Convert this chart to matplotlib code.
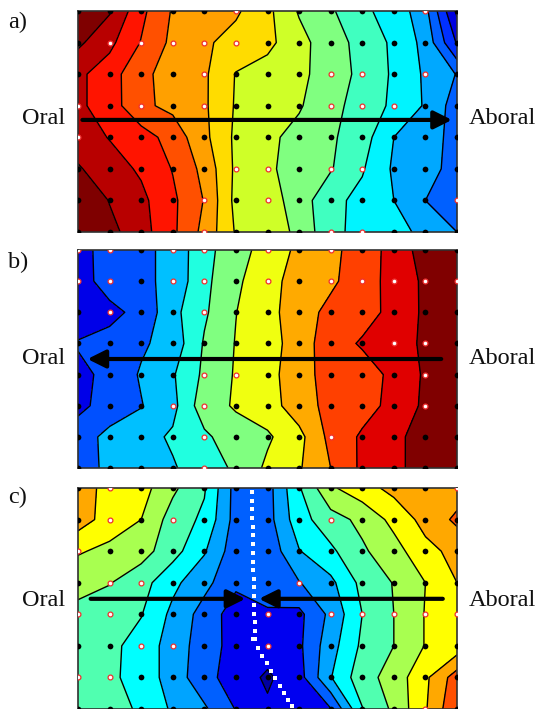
import numpy as np
import matplotlib
matplotlib.use('Agg')
import matplotlib.pyplot as plt
from matplotlib.colors import ListedColormap, BoundaryNorm

W, H = 537, 709
plt.rcParams['font.family'] = ['Liberation Serif', 'DejaVu Serif']

# activation map values, rows top to bottom, 13 electrodes across
map_a = [
    [0.0, 0.9, 2.75, 4.1, 4.5, 4.85, 5.75, 7.1, 7.85, 8.85, 9.3, 10.7, 14.2],
    [0.8, 1.75, 3.05, 4.25, 4.85, 5.35, 5.75, 6.65, 7.6, 8.3, 9.2, 10.3, 13.1],
    [1.8, 2.5, 3.85, 4.25, 4.85, 6.05, 6.4, 6.75, 7.5, 8.25, 9.15, 10.15, 11.05],
    [1.8, 2.5, 3.8, 4.25, 4.85, 6.1, 6.45, 6.9, 7.7, 8.4, 9.2, 10.1, 11.5],
    [1.5, 2.05, 2.55, 3.4, 4.75, 6.2, 6.8, 7.3, 7.85, 8.55, 10.0, 10.6, 11.3],
    [0.9, 1.55, 2.15, 3.05, 4.3, 6.2, 6.8, 7.5, 7.92, 8.9, 10.15, 10.6, 11.4],
    [0.0, 1.05, 1.75, 2.8, 4.05, 6.3, 6.5, 7.5, 8.7, 9.3, 10.0, 11.0, 11.6],
    [0.0, 0.7, 1.6, 2.8, 4.3, 6.1, 6.4, 7.25, 8.75, 9.3, 9.6, 10.3, 11.0],
]
map_b = [
    [0.6, 1.45, 1.75, 2.3, 3.7, 4.55, 5.45, 6.2, 6.7, 7.55, 8.3, 9.5, 10],
    [0.6, 1.4, 1.75, 2.3, 3.75, 4.8, 5.7, 6.35, 6.8, 7.6, 8.3, 9.2, 10],
    [0.2, 0.75, 1.27, 2.7, 3.85, 4.98, 5.7, 6.5, 7.3, 7.65, 8.25, 9.2, 10],
    [1.1, 1.3, 1.85, 2.4, 4.1, 5.05, 5.6, 6.45, 7.6, 8.1, 8.6, 9.15, 10],
    [0.7, 1.3, 2.1, 2.9, 4.2, 5.1, 5.65, 6.6, 7.4, 7.6, 8.2, 9.15, 10],
    [0.75, 1.4, 1.95, 2.7, 4.6, 5.1, 5.55, 6.55, 7.3, 7.6, 8.3, 9.2, 10],
    [1.5, 2.3, 2.6, 3.15, 3.8, 4.6, 4.85, 5.7, 7.3, 8.15, 8.6, 9.7, 10],
    [1.5, 2.25, 2.55, 2.9, 3.55, 4.15, 5.2, 5.9, 7.0, 8.2, 8.6, 9.7, 10],
]
map_c = [
    [8.5, 7.65, 7.4, 6.2, 5.1, 2.6, 2.6, 4.9, 6.85, 7.6, 8.3, 8.4, 8.5],
    [8.5, 7.55, 7.0, 5.55, 4.8, 2.6, 2.6, 4.6, 5.6, 6.25, 7.3, 8.35, 9.2],
    [7.1, 6.75, 6.4, 5.4, 4.1, 2.4, 2.3, 3.95, 4.8, 5.85, 6.6, 7.7, 8.3],
    [6.35, 6.05, 5.4, 4.25, 3.3, 2.2, 2.9, 2.95, 3.75, 5.3, 6.05, 7.0, 8.0],
    [5.7, 5.4, 5.05, 3.75, 2.6, 1.5, 1.75, 1.75, 3.25, 5.0, 6.0, 7.05, 7.45],
    [5.6, 5.25, 4.6, 3.55, 2.5, 1.6, 1.45, 1.8, 3.6, 5.2, 6.0, 7.05, 7.4],
    [5.55, 5.2, 4.6, 3.55, 2.35, 1.5, 0.85, 1.6, 3.95, 5.6, 6.4, 7.8, 9.5],
    [5.7, 5.4, 4.85, 3.85, 3.15, 1.95, 1.15, 1.4, 1.95, 4.95, 6.2, 7.9, 9.9],
]

levels_a = [-1, 1, 2, 3, 4, 5, 6, 7, 8, 9, 10, 11, 12, 13, 14, 20]
levels_bc = [-1, 1, 2, 3, 4, 5, 6, 7, 8, 9, 20]
colors_a = ['#7f0000', '#b80000', '#ff1400', '#ff5000', '#ffa000', '#ffdc00',
            '#cfff28', '#80ff80', '#40ffc0', '#00f4ff', '#00a8ff', '#0060ff',
            '#0030ff', '#0000e0', '#000090']
colors_b = ['#0000e8', '#0050ff', '#00c0ff', '#20ffe0', '#80ff80', '#f0ff10',
            '#ffaa00', '#ff4000', '#e00000', '#800000']
colors_c = ['#0000a0', '#0000f0', '#0060ff', '#00a4ff', '#00ffff', '#50ffb0',
            '#a8ff50', '#ffff00', '#ffa800', '#ff5000']

# electrodes drawn with a red ring (col, row)
rings_a = [(5, 0), (11, 0), (1, 1), (2, 1), (3, 1), (4, 1), (5, 1), (4, 2), (8, 2), (9, 2), (11, 2),
           (0, 3), (2, 3), (4, 3), (8, 3), (9, 3), (10, 3), (0, 4), (5, 5), (6, 5), (8, 5), (9, 5),
           (4, 6), (6, 6), (12, 6), (4, 7), (8, 7), (9, 7)]
rings_b = [(0, 0), (1, 0), (3, 0), (4, 0), (6, 0), (8, 0), (0, 1), (1, 1), (3, 1), (4, 1), (6, 1),
           (8, 1), (9, 1), (10, 1), (11, 1), (12, 1), (1, 2), (4, 2), (10, 3), (11, 3), (4, 4),
           (5, 4), (11, 4), (3, 5), (4, 5), (11, 5), (4, 6), (8, 6), (4, 7)]
rings_c = [(1, 0), (12, 0), (1, 1), (3, 1), (8, 1), (0, 2), (1, 3), (2, 3), (7, 3), (0, 4), (1, 4),
           (6, 4), (8, 4), (9, 4), (10, 4), (11, 4), (12, 4), (2, 5), (3, 5), (6, 5), (0, 6),
           (1, 6), (11, 7)]

# white dotted conduction line in panel c
path_x = [5.5, 5.51, 5.52, 5.52, 5.53, 5.53, 5.54, 5.54, 5.55, 5.55, 5.56, 5.56, 5.57, 5.57, 5.58,
          5.59, 5.6, 5.61, 5.53, 5.7, 5.84, 5.98, 6.11, 6.25, 6.39, 6.52, 6.65, 6.78]
path_y = [0.13, 0.4, 0.67, 0.95, 1.22, 1.5, 1.77, 2.05, 2.33, 2.6, 2.88, 3.15, 3.43, 3.7, 3.98,
          4.25, 4.52, 4.79, 4.79, 5.07, 5.32, 5.55, 5.79, 6.02, 6.26, 6.49, 6.72, 6.91]


def add_axes(x0, x1, y0, y1):
    return fig.add_axes([x0 / W, 1 - y1 / H, (x1 - x0) / W, (y1 - y0) / H])


def draw_map(ax, z, levels, colors, rings):
    z = np.array(z)
    xs = np.arange(z.shape[1])
    ys = np.arange(z.shape[0])
    cmap = ListedColormap(colors)
    norm = BoundaryNorm(levels, cmap.N)
    ax.contourf(xs, ys, z, levels=levels, cmap=cmap, norm=norm)
    ax.contour(xs, ys, z, levels=levels[1:-1], colors='k', linewidths=1.0)
    X, Y = np.meshgrid(xs, ys)
    ring = np.zeros(z.shape, dtype=bool)
    for c, r in rings:
        ring[r, c] = True
    ax.scatter(X[~ring], Y[~ring], s=17, c='k', linewidths=0, zorder=3)
    ax.scatter(X[ring], Y[ring], s=12, c='white', edgecolors='#f03030', linewidths=0.9, zorder=3)
    ax.set_xlim(0, 12)
    ax.set_ylim(7, 0)
    ax.set_xticks([])
    ax.set_yticks([])
    for s in ax.spines.values():
        s.set_linewidth(1.2)
        s.set_color('#303030')


def arrow(ax, x0, x1, y):
    ax.annotate('', xy=(x1, y), xytext=(x0, y), annotation_clip=False, zorder=5,
                arrowprops=dict(arrowstyle='-|>', color='k', lw=3, mutation_scale=27,
                                shrinkA=0, shrinkB=0))


def label(x, y, s):
    fig.text(x / W, 1 - y / H, s, fontsize=17.5, va='center', ha='left', color='#101010')


fig = plt.figure(figsize=(W / 100, H / 100), dpi=100)

ax_a = add_axes(78, 457, 11, 232)
draw_map(ax_a, map_a, levels_a, colors_a, rings_a)
arrow(ax_a, 0.14, 11.84, 3.45)

ax_b = add_axes(78, 457, 250, 468)
draw_map(ax_b, map_b, levels_bc, colors_b, rings_b)
arrow(ax_b, 11.5, 0.3, 3.5)

ax_c = add_axes(78, 457, 488, 709)
draw_map(ax_c, map_c, levels_bc, colors_c, rings_c)
ax_c.scatter(path_x, path_y, s=8, marker='s', c='white', linewidths=0, zorder=4)
arrow(ax_c, 0.4, 5.3, 3.51)
arrow(ax_c, 11.55, 5.73, 3.51)

label(8, 22, 'a)')
label(8, 262, 'b)')
label(8, 497, 'c)')
for y in (118, 358, 601):
    label(22, y, 'Oral')
    label(469, y, 'Aboral')

fig.savefig('out.png', dpi=100)
